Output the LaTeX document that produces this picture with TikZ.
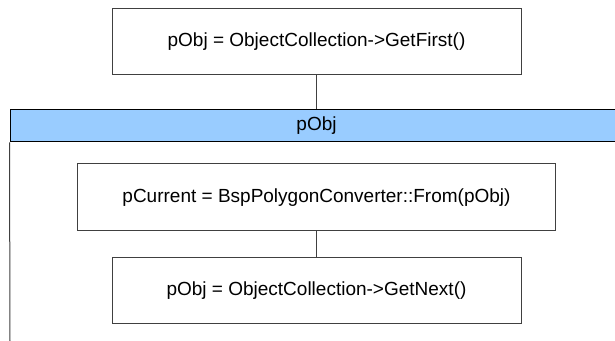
\documentclass[tikz,border=0pt]{standalone}
\usepackage{fontspec}
\setmainfont{Liberation Sans}
\usetikzlibrary{positioning}
\definecolor{barblue}{HTML}{99CCFF}

\begin{document}
\begin{tikzpicture}[x=0.5pt,y=0.5pt]
\tikzstyle{block} = [rectangle, draw=black!75, line width=0.5pt, fill=white,
font=\fontsize{9.5}{11}\selectfont, minimum width=204.5pt, minimum height=33pt, inner sep=0pt]
\tikzstyle{loopbar} = [rectangle, draw=black, line width=0.5pt, fill=barblue,
font=\fontsize{9.5}{11}\selectfont, minimum width=306.5pt, minimum height=16pt, inner sep=0pt]
\tikzstyle{line} = [draw=black!75, line width=0.5pt];
\useasboundingbox (0,0) rectangle (615,-341);
% before the loop
\node [block] (first) at (316.5,-42) {pObj = ObjectCollection->GetFirst()};
% loop header
\node [loopbar, below=17pt of first] (loop) {pObj};
% loop body
\node [block, minimum width=239pt, minimum height=33.5pt, below=10.5pt of loop] (current)
{pCurrent = BspPolygonConverter::From(pObj)};
\node [block, below=13pt of current] (next) {pObj = ObjectCollection->GetNext()};
\coordinate (loopend) at (10,-341);
\path [line] (first) -- (loop);
\path [line] (current) -- (next);
\path [line] (loop.south west) -- (loopend);
\end{tikzpicture}
\end{document}
